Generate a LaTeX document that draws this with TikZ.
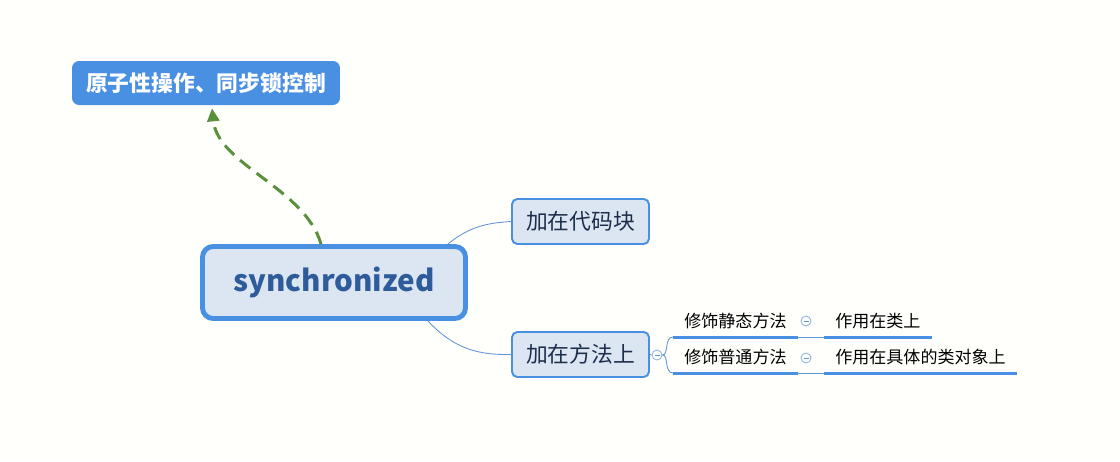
\documentclass[tikz,border=0pt]{standalone}
\usepackage{fontspec}
\setmainfont{Noto Sans CJK SC}
\usepackage{xcolor}
\usetikzlibrary{shapes, arrows.meta, positioning}

\definecolor{mapblue}{RGB}{74,144,226}
\definecolor{boxfill}{RGB}{220,230,242}
\definecolor{roottext}{RGB}{46,92,154}
\definecolor{childtext}{RGB}{30,45,75}
\definecolor{linkgreen}{RGB}{90,143,60}
\definecolor{branchline}{RGB}{100,150,215}
\definecolor{paper}{RGB}{255,255,252}

\begin{document}
\begin{tikzpicture}[
    x=0.02cm, y=-0.02cm,
    root/.style={rectangle, draw=mapblue, line width=2.8pt, rounded corners=6pt, fill=boxfill, minimum width=5.26cm, minimum height=1.44cm, text=roottext, font=\fontsize{16.8}{19}\selectfont\bfseries},
    topic/.style={rectangle, fill=mapblue, rounded corners=4pt, minimum width=5.36cm, minimum height=0.88cm, text=white, font=\fontsize{12.4}{14}\selectfont\bfseries},
    child/.style={rectangle, draw=mapblue, line width=1.1pt, rounded corners=3pt, fill=boxfill, minimum width=2.74cm, minimum height=0.9cm, text=childtext, font=\fontsize{12.4}{14}\selectfont},
    leaf/.style={rectangle, inner xsep=0.22cm, inner ysep=0pt, minimum height=0.64cm, font=\fontsize{9.7}{11}\selectfont},
    underline/.style={mapblue, line width=1.7pt},
    branch/.style={branchline, line width=0.5pt},
    fold/.style={circle, draw=branchline!70, line width=0.5pt, fill=paper, minimum size=0.2cm, inner sep=0pt,
        path picture={\draw[branchline, line width=0.5pt] ([xshift=-0.05cm]path picture bounding box.center) -- ([xshift=0.05cm]path picture bounding box.center);}},
    link/.style={-{Triangle[length=0.26cm, width=0.24cm]}, linkgreen, line width=1.7pt, dash pattern=on 7.5pt off 4.5pt}
]

% Canvas
\fill[paper] (0,0) rectangle (1120,461);
\useasboundingbox (0,0) rectangle (1120,461);

% Main nodes
\node[root] (sync) at (334,282.5) {synchronized};
\node[topic] (atomic) at (206,83) {原子性操作、同步锁控制};
\node[child] (block) at (580.5,221.5) {加在代码块};
\node[child] (method) at (580.5,354.5) {加在方法上};

% Branches from root
\draw[branch] ([xshift=-0.4cm]sync.north east) .. controls (470,226) and (488,223) .. (block.west);
\draw[branch] ([xshift=-0.8cm]sync.south east) .. controls (455,350) and (480,355) .. (method.west);

% Leaves of the method branch
\node[fold] (mfold) at (657,355) {};
\draw[branch] (method.east) -- (mfold.west);
\node[leaf, anchor=south west] (static) at (673,337) {修饰静态方法};
\node[leaf, anchor=south west] (normal) at (673,373) {修饰普通方法};
\node[leaf, right=0.52cm of static.south east, anchor=south west] (onclass) {作用在类上};
\node[leaf, right=0.52cm of normal.south east, anchor=south west] (onobject) {作用在具体的类对象上};
\draw[branch] (mfold.east) .. controls (669,355) and (664,337) .. (static.south west);
\draw[branch] (mfold.east) .. controls (669,355) and (664,373) .. (normal.south west);
\draw[branch] (static.south east) -- (onclass.south west);
\draw[branch] (normal.south east) -- (onobject.south west);
\foreach \n in {static, normal, onclass, onobject}
    \draw[underline] (\n.south west) -- (\n.south east);
\node[fold] (sfold) at (806,321) {};
\node[fold] (nfold) at (806,358) {};

% Dashed relation
\draw[link] ([xshift=-0.26cm]sync.north) .. controls (305,188) and (218,165) .. ([xshift=0.12cm, yshift=-0.06cm]atomic.south);

\end{tikzpicture}
\end{document}
